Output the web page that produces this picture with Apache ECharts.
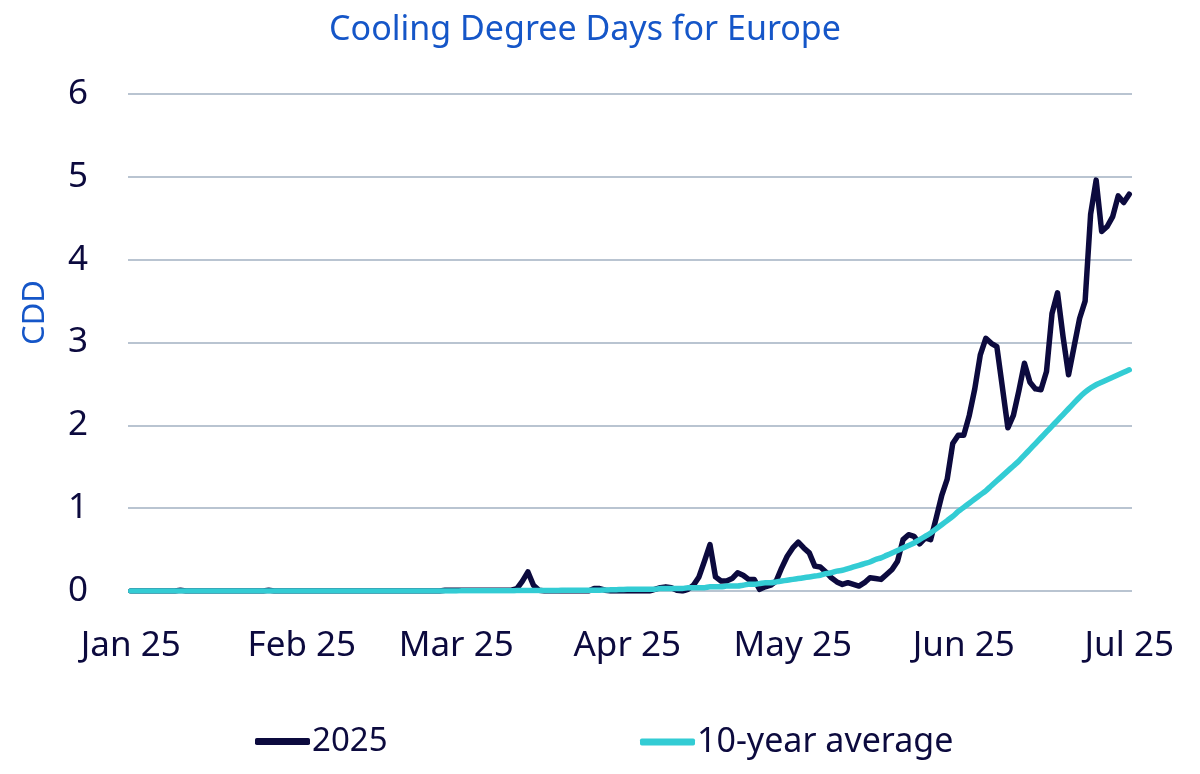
<!DOCTYPE html>
<html>
<head>
<meta charset="utf-8">
<title>Cooling Degree Days for Europe</title>
<script src="https://cdn.jsdelivr.net/npm/echarts@6/dist/echarts.min.js"></script>
<style>
  html, body { margin: 0; padding: 0; background: #fff; }
  #main { width: 1200px; height: 774px; }
</style>
</head>
<body>
<div id="main"></div>
<script>
// 数据: one value per day, 1 Jan 2025 .. 1 Jul 2025 (182 days)
var monthLabels = ['Jan 25', 'Feb 25', 'Mar 25', 'Apr 25', 'May 25', 'Jun 25', 'Jul 25'];
var monthStartIdx = [0, 31, 59, 90, 120, 151, 181];

var cdd2025 = [
  0, 0, 0, 0, 0, 0, 0, 0, 0, 0.01,
  0, 0, 0, 0, 0, 0, 0, 0, 0, 0,
  0, 0, 0, 0, 0, 0.01, 0, 0, 0, 0,
  0, 0, 0, 0, 0, 0, 0, 0, 0, 0,
  0, 0, 0, 0, 0, 0, 0, 0, 0, 0,
  0, 0, 0, 0, 0, 0, 0, 0.01, 0.01, 0.01,
  0.01, 0.01, 0.01, 0.01, 0.01, 0.01, 0.01, 0.01, 0.01, 0.01,
  0.03, 0.12, 0.23, 0.07, 0.01, 0, 0, 0, 0, 0,
  0, 0, 0, 0, 0.03, 0.03, 0.01, 0, 0, 0,
  0, 0, 0, 0, 0, 0.02, 0.04, 0.05, 0.04, 0.01,
  0, 0.02, 0.07, 0.17, 0.36, 0.56, 0.17, 0.12, 0.12, 0.15,
  0.22, 0.19, 0.14, 0.14, 0.02, 0.05, 0.07, 0.12, 0.28, 0.42,
  0.52, 0.59, 0.52, 0.46, 0.30, 0.29, 0.23, 0.16, 0.11, 0.08,
  0.10, 0.08, 0.06, 0.10, 0.16, 0.15, 0.14, 0.20, 0.26, 0.36,
  0.62, 0.68, 0.66, 0.57, 0.64, 0.62, 0.88, 1.15, 1.35, 1.78,
  1.88, 1.88, 2.12, 2.44, 2.85, 3.05, 2.99, 2.95, 2.46, 1.97,
  2.12, 2.42, 2.75, 2.52, 2.44, 2.43, 2.65, 3.35, 3.60, 3.07,
  2.61, 2.95, 3.29, 3.50, 4.55, 4.96, 4.34, 4.40, 4.52, 4.77,
  4.69, 4.79
];

var avg10y = [
  0, 0, 0, 0, 0, 0, 0, 0, 0, 0,
  0, 0, 0, 0, 0, 0, 0, 0, 0, 0,
  0, 0, 0, 0, 0, 0, 0, 0, 0, 0,
  0, 0, 0, 0, 0, 0, 0, 0, 0, 0,
  0, 0, 0, 0, 0, 0, 0, 0, 0, 0,
  0, 0, 0, 0, 0, 0, 0, 0, 0, 0,
  0.003, 0.003, 0.003, 0.003, 0.003, 0.004, 0.004, 0.004, 0.004, 0.004,
  0.005, 0.005, 0.005, 0.005, 0.005, 0.006, 0.006, 0.007, 0.008, 0.009,
  0.01, 0.01, 0.01, 0.01, 0.01, 0.01, 0.012, 0.014, 0.016, 0.018,
  0.02, 0.02, 0.02, 0.02, 0.02, 0.02, 0.03, 0.03, 0.03, 0.03,
  0.03, 0.04, 0.04, 0.04, 0.04, 0.05, 0.05, 0.05, 0.06, 0.06,
  0.06, 0.07, 0.08, 0.08, 0.09, 0.10, 0.10, 0.11, 0.12, 0.13,
  0.14, 0.15, 0.16, 0.17, 0.18, 0.19, 0.21, 0.22, 0.24, 0.25,
  0.27, 0.29, 0.31, 0.33, 0.35, 0.38, 0.40, 0.43, 0.46, 0.49,
  0.52, 0.55, 0.58, 0.62, 0.66, 0.70, 0.75, 0.80, 0.85, 0.90,
  0.96, 1.01, 1.06, 1.11, 1.16, 1.21, 1.27, 1.33, 1.39, 1.45,
  1.51, 1.57, 1.64, 1.71, 1.78, 1.85, 1.92, 1.99, 2.06, 2.13,
  2.20, 2.27, 2.34, 2.40, 2.45, 2.49, 2.52, 2.55, 2.58, 2.61,
  2.64, 2.67
];

// 日期类目
var days = [];
var d0 = Date.UTC(2025, 0, 1);
for (var i = 0; i < cdd2025.length; i++) {
  days.push(new Date(d0 + i * 86400000).toISOString().slice(0, 10));
}

var navy = '#0c0a3e';
var cyan = '#33ccd4';
var blue = '#1556c8';
var font = '"Noto Sans", "Open Sans", sans-serif';

var myChart = echarts.init(document.getElementById('main'));
var option = {
  animation: false,
  title: {
    text: 'Cooling Degree Days for Europe',
    left: 580,
    top: 8,
    textAlign: 'center',
    textStyle: { color: blue, fontSize: 34, fontWeight: 'normal', fontFamily: font }
  },
  legend: [
    {
      data: ['2025'],
      left: 250,
      top: 720,
      icon: 'roundRect',
      itemWidth: 55,
      itemHeight: 7,
      itemGap: 0,
      textStyle: { color: navy, fontSize: 33, fontFamily: font, padding: [0, 0, 0, -3] }
    },
    {
      data: ['10-year average'],
      left: 635,
      top: 720,
      icon: 'roundRect',
      itemWidth: 55,
      itemHeight: 7,
      itemGap: 0,
      textStyle: { color: navy, fontSize: 34, fontFamily: font, padding: [0, 0, 0, -3] }
    }
  ],
  grid: { left: 128, right: 68, top: 94, bottom: 183 },
  xAxis: {
    type: 'category',
    data: days,
    boundaryGap: true,
    axisLine: { show: false },
    axisTick: { show: false },
    axisLabel: {
      interval: function (idx) { return monthStartIdx.indexOf(idx) >= 0; },
      formatter: function (val, idx) { return monthLabels[monthStartIdx.indexOf(idx)]; },
      color: navy,
      fontSize: 35,
      fontFamily: font,
      margin: 38
    }
  },
  yAxis: {
    type: 'value',
    min: 0,
    max: 6,
    interval: 1,
    name: 'CDD',
    nameLocation: 'middle',
    nameGap: 77,
    nameTextStyle: { color: blue, fontSize: 31, fontFamily: font, padding: [0, 0, 0, 60] },
    axisLine: { show: false },
    axisTick: { show: false },
    axisLabel: { color: navy, fontSize: 35, fontFamily: font, margin: 40 },
    splitLine: { lineStyle: { color: '#b9c4d1', width: 2 } }
  },
  series: [
    {
      name: '2025',
      type: 'line',
      data: cdd2025,
      symbol: 'none',
      lineStyle: { color: navy, width: 5.5, join: 'round', cap: 'round' },
      itemStyle: { color: navy }
    },
    {
      name: '10-year average',
      type: 'line',
      data: avg10y,
      symbol: 'none',
      smooth: 0.3,
      lineStyle: { color: cyan, width: 5.5, cap: 'round' },
      itemStyle: { color: cyan }
    }
  ]
};
myChart.setOption(option);
</script>
</body>
</html>
